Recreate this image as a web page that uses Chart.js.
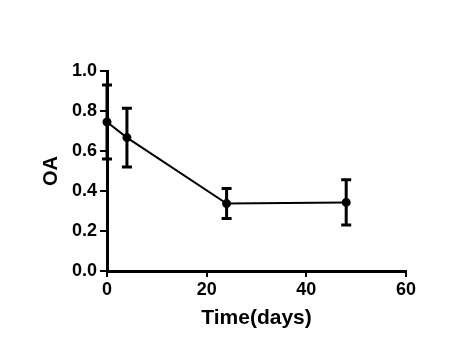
<!DOCTYPE html>
<html>
<head>
<meta charset="utf-8">
<script src="https://cdn.jsdelivr.net/npm/chart.js@4.4.0/dist/chart.umd.min.js"></script>
<style>
  body { margin: 0; background: #fff; }
  canvas { display: block; }
</style>
</head>
<body>
<canvas id="grafica" width="458" height="363"></canvas>
<script>
// datos
const dias = [0, 4, 24, 48];
const oa = [0.745, 0.667, 0.337, 0.343];
const errorOa = [0.185, 0.147, 0.075, 0.113];
const ticksX = [0, 20, 40, 60];
const ticksY = [0, 0.2, 0.4, 0.6, 0.8, 1.0];

const fuente = 'Liberation Sans, Arial, sans-serif';

// barras de error dibujadas con las escalas del grafico
const barrasError = {
    id: 'barrasError',
    afterDatasetsDraw(chart) {
        const ctx = chart.ctx;
        const sx = chart.scales.x;
        const sy = chart.scales.y;
        ctx.save();
        ctx.strokeStyle = '#000';
        ctx.lineWidth = 3;
        dias.forEach((d, i) => {
            const x = sx.getPixelForValue(d);
            const yTop = sy.getPixelForValue(oa[i] + errorOa[i]);
            const yBot = sy.getPixelForValue(oa[i] - errorOa[i]);
            ctx.beginPath();
            ctx.moveTo(x, yTop);
            ctx.lineTo(x, yBot);
            ctx.moveTo(x - 5, yTop);
            ctx.lineTo(x + 5, yTop);
            ctx.moveTo(x - 5, yBot);
            ctx.lineTo(x + 5, yBot);
            ctx.stroke();
        });
        ctx.restore();
    }
};

const ctx = document.getElementById('grafica').getContext('2d');
new Chart(ctx, {
    type: 'scatter',
    data: {
        datasets: [{
            label: 'OA',
            data: dias.map((d, i) => ({ x: d, y: oa[i] })),
            showLine: true,
            borderColor: '#000',
            borderWidth: 2,
            backgroundColor: '#000',
            pointRadius: 3.5,
            pointBackgroundColor: '#000',
            pointBorderColor: '#000',
            clip: false
        }]
    },
    options: {
        responsive: false,
        animation: false,
        layout: { padding: { top: 71, right: 52, left: 0, bottom: 0 } },
        plugins: {
            legend: { display: false },
            tooltip: { enabled: false }
        },
        scales: {
            x: {
                type: 'linear',
                min: 0,
                max: 60,
                afterBuildTicks: (scale) => { scale.ticks = ticksX.map(v => ({ value: v })); },
                afterFit: (scale) => { scale.height = 92; },
                grid: { display: true, drawOnChartArea: false, drawTicks: true, tickLength: 6, color: '#000', lineWidth: 2 },
                border: { display: true, color: '#000', width: 3 },
                ticks: {
                    color: '#000',
                    padding: 2,
                    font: { family: fuente, size: 18, weight: 'bold' },
                    maxRotation: 0
                },
                title: {
                    display: true,
                    text: 'Time(days)',
                    color: '#000',
                    font: { family: fuente, size: 21, weight: 'bold' },
                    padding: { top: 0, bottom: 32 }
                }
            },
            y: {
                min: 0,
                max: 1.0,
                afterBuildTicks: (scale) => { scale.ticks = ticksY.map(v => ({ value: v })); },
                afterFit: (scale) => { scale.width = 107; },
                grid: { display: true, drawOnChartArea: false, drawTicks: true, tickLength: 7, color: '#000', lineWidth: 2 },
                border: { display: true, color: '#000', width: 3 },
                ticks: {
                    color: '#000',
                    padding: 3,
                    font: { family: fuente, size: 18, weight: 'bold' },
                    callback: (v) => v.toFixed(1)
                },
                title: {
                    display: true,
                    text: 'OA',
                    color: '#000',
                    font: { family: fuente, size: 20, weight: 'bold' },
                    padding: { top: 39, bottom: 0 }
                }
            }
        }
    },
    plugins: [barrasError]
});
</script>
</body>
</html>
